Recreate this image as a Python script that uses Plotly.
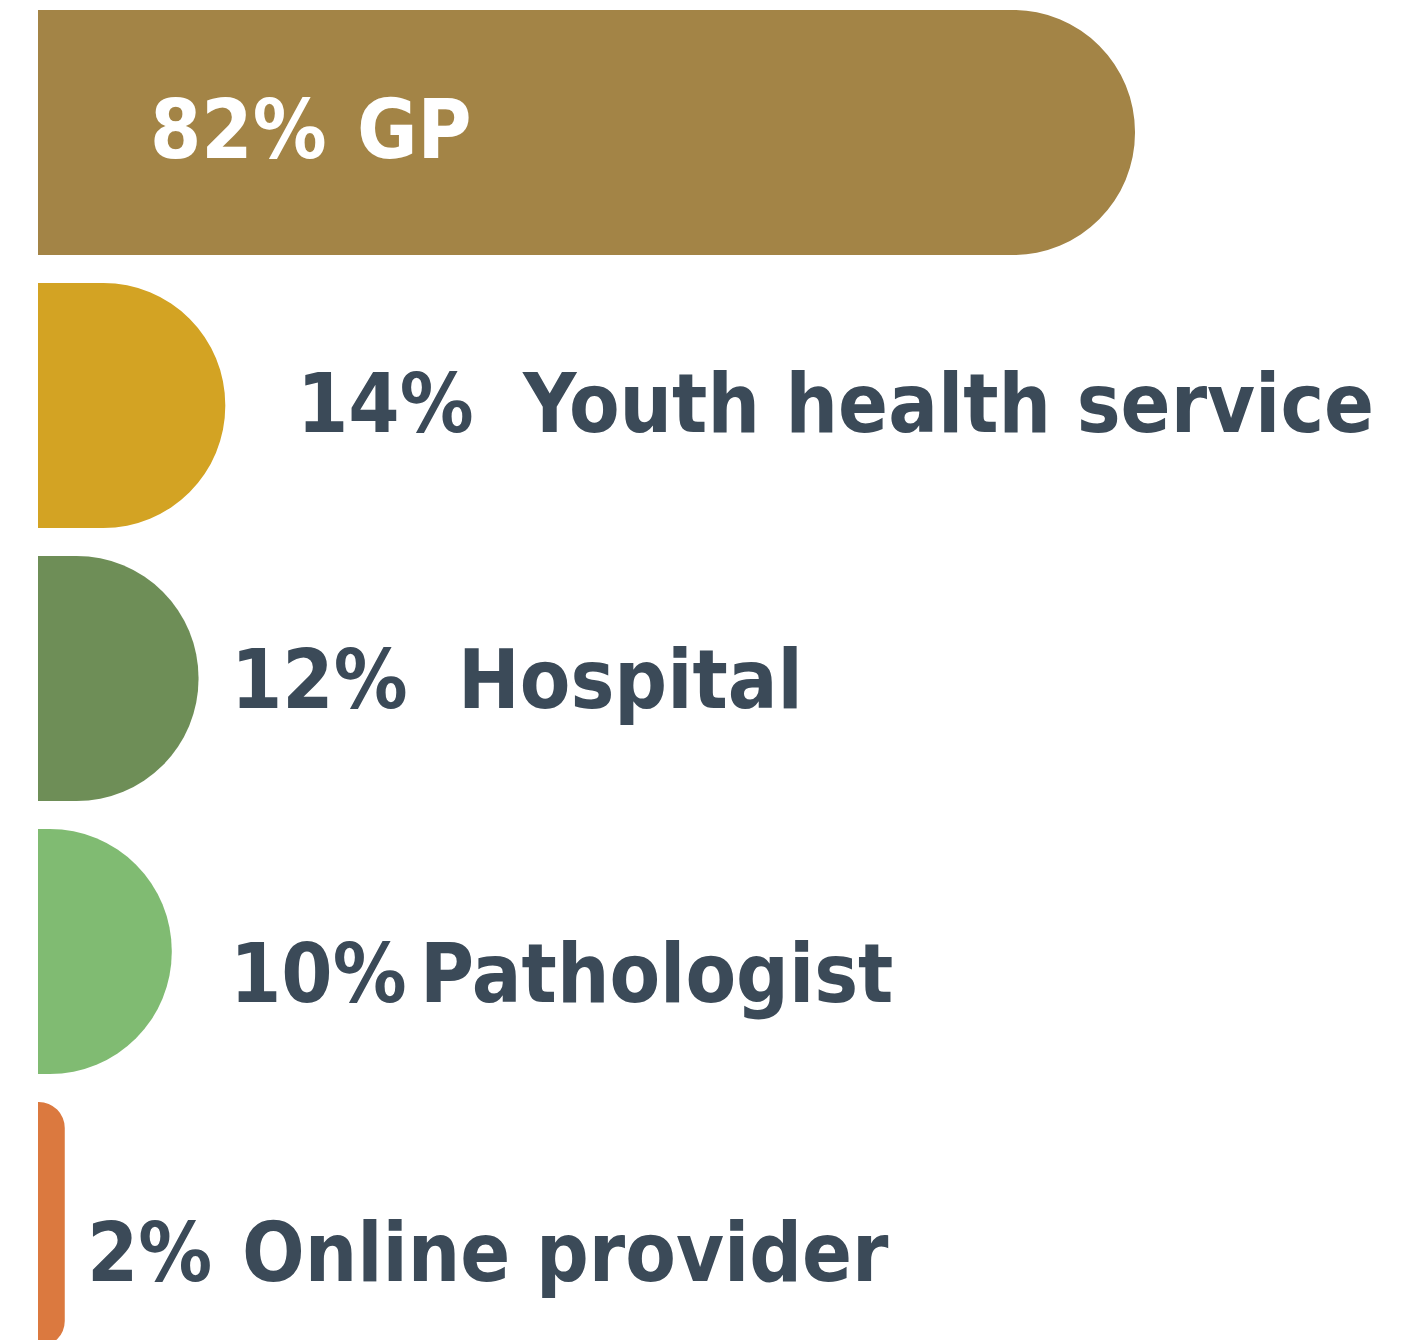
import plotly.graph_objects as go

categories = ["GP", "Youth health service", "Hospital", "Pathologist", "Online provider"]
values = [82, 14, 12, 10, 2]
pct_labels = ["82%", "14%", "12%", "10%", "2%"]
colors = ["#A38446", "#D3A323", "#6E8E57", "#80BB72", "#DB793F"]

# label placement (pixel offsets from bar end / origin)
pct_shift = [110, 70, 30, 56, 20]
name_shift = [317, 295, 257, 246, 175]
y_shift = [3, 2, -1, -22, -28]
inside = [True, False, False, False, False]

TEXT = "#3B4A58"
FONT = "Noto Sans Condensed, DejaVu Sans Condensed, sans-serif"
FSIZE = 82

ypos = list(range(len(categories)))

fig = go.Figure()
fig.add_trace(go.Bar(
    x=values, y=ypos, orientation="h",
    width=245 / 273,
    marker=dict(color=colors, line=dict(width=0), cornerradius=122),
    hoverinfo="skip",
))

annotations = []
for i, (cat, v, p) in enumerate(zip(categories, values, pct_labels)):
    xbase = 0 if inside[i] else v
    col = "white" if inside[i] else TEXT
    for txt, sh in ((p, pct_shift[i]), (cat, name_shift[i])):
        annotations.append(dict(
            x=xbase, y=i, xref="x", yref="y", text=txt, showarrow=False,
            xanchor="left", yanchor="middle", xshift=sh, yshift=y_shift[i],
            font=dict(family=FONT, size=FSIZE, color=col, weight="bold"),
        ))

fig.update_layout(
    width=1418, height=1340,
    margin=dict(l=30, r=0, t=0, b=0),
    paper_bgcolor="white", plot_bgcolor="white",
    showlegend=False,
    annotations=annotations,
    xaxis=dict(range=[0, 1388 / 13.378], visible=False, fixedrange=True),
    yaxis=dict(range=[-0.456 + 1340 / 273, -0.456], visible=False, fixedrange=True),
)

fig.write_html("out.html")
